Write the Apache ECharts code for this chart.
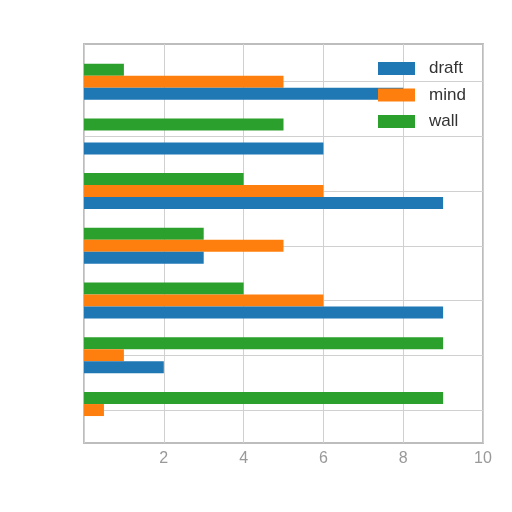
<!DOCTYPE html>
<html>
<head>
<meta charset="utf-8">
<script src="https://cdn.jsdelivr.net/npm/echarts@6/dist/echarts.min.js"></script>
<style>html,body{margin:0;padding:0;background:#fff}#c{width:512px;height:512px}</style>
</head>
<body>
<div id="c"></div>
<script>
// groups, bottom to top
const groups = ['g0', 'g1', 'g2', 'g3', 'g4', 'g5', 'g6'];
const draft = [0, 2, 9, 3, 9, 6, 8];
const mind  = [0.5, 1, 6, 5, 6, 0, 5];
const wall  = [9, 9, 4, 3, 4, 5, 1];
const xTicks = [2, 4, 6, 8, 10];
const seriesNames = ['draft', 'mind', 'wall'];
const colors = { draft: '#1f77b4', mind: '#ff7f0e', wall: '#2ca02c' };

const chart = echarts.init(document.getElementById('c'));
chart.setOption({
  animation: false,
  backgroundColor: '#ffffff',
  textStyle: { fontFamily: 'Liberation Sans' },
  grid: [
    { left: 84, right: 29, top: 44, bottom: 69, show: true, borderColor: '#bdbdbd', borderWidth: 2, backgroundColor: 'transparent' },
    { left: 84, right: 29, top: 54.3, bottom: 74.6 }
  ],
  legend: {
    data: seriesNames,
    orient: 'vertical',
    left: 378, top: 60,
    padding: 0,
    itemWidth: 37, itemHeight: 13, itemGap: 9.5,
    icon: 'rect',
    textStyle: { fontSize: 17, lineHeight: 17, color: '#333', padding: [0, 0, 0, 9], fontFamily: 'Liberation Sans' }
  },
  xAxis: [
    { gridIndex: 0, type: 'value', min: 0, max: 10, interval: 2,
      axisLine: { show: false }, axisTick: { show: false },
      axisLabel: { color: '#999', fontSize: 16, margin: 8, showMinLabel: false,
        formatter: v => xTicks.includes(v) ? String(v) : '' },
      splitLine: { show: true, lineStyle: { color: '#d0d0d0', width: 1 } } },
    { gridIndex: 1, type: 'value', min: 0, max: 10, show: false, splitLine: { show: false } }
  ],
  yAxis: [
    { gridIndex: 0, type: 'value', min: 0, max: 1, show: false, splitLine: { show: false } },
    { gridIndex: 1, type: 'category', data: groups, show: false, splitLine: { show: false } }
  ],
  series: [
    { name: 'wall', type: 'bar', xAxisIndex: 1, yAxisIndex: 1, data: wall, barWidth: 12, barGap: '0%', itemStyle: { color: colors.wall } },
    { name: 'mind', type: 'bar', xAxisIndex: 1, yAxisIndex: 1, data: mind, barWidth: 12, barGap: '0%', itemStyle: { color: colors.mind },
      markLine: { silent: true, symbol: 'none', z: 1, label: { show: false },
        lineStyle: { color: '#d0d0d0', width: 1, type: 'solid' },
        data: groups.map((g, i) => ({ yAxis: i })) } },
    { name: 'draft', type: 'bar', xAxisIndex: 1, yAxisIndex: 1, data: draft, barWidth: 12, barGap: '0%', itemStyle: { color: colors.draft } }
  ]
});
</script>
</body>
</html>
